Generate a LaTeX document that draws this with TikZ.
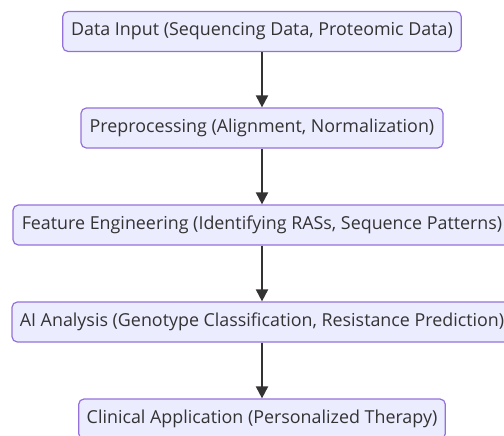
\documentclass[tikz,border=0pt]{standalone}
\usepackage{fontspec}
\setmainfont{Open Sans}
\usetikzlibrary{arrows.meta}
\definecolor{boxfill}{HTML}{ECECFF}
\definecolor{boxline}{HTML}{9370DB}
\definecolor{ink}{HTML}{333333}
\tikzset{
  stepbox/.style={draw=boxline, fill=boxfill, line width=0.9pt, rounded corners=4pt,
    minimum height=30pt, inner sep=0pt, text=ink, font=\fontsize{13.4}{15}\selectfont},
  flow/.style={draw=ink, line width=1.4pt, -{Triangle[length=9pt,width=9pt]}}
}
\begin{document}
\begin{tikzpicture}[x=0.75pt,y=-0.75pt]
  \useasboundingbox (0,0) rectangle (504,436);
  \clip (0,0) rectangle (504,436);
  \node[stepbox, minimum width=299pt] (b1) at (262,31.5) {Data Input (Sequencing Data, Proteomic Data)};
  \node[stepbox, minimum width=271.5pt] (b2) at (262,128) {Preprocessing (Alignment, Normalization)};
  \node[stepbox, minimum width=373.5pt] (b3) at (262,225) {Feature Engineering (Identifying RASs, Sequence Patterns)};
  \node[stepbox, minimum width=375pt] (b4) at (262,322) {AI Analysis (Genotype Classification, Resistance Prediction)};
  \node[stepbox, minimum width=275pt] (b5) at (262,419) {Clinical Application (Personalized Therapy)};
  \draw[flow] (b1.south) -- (b2.north);
  \draw[flow] (b2.south) -- (b3.north);
  \draw[flow] (b3.south) -- (b4.north);
  \draw[flow] (b4.south) -- (b5.north);
\end{tikzpicture}
\end{document}
